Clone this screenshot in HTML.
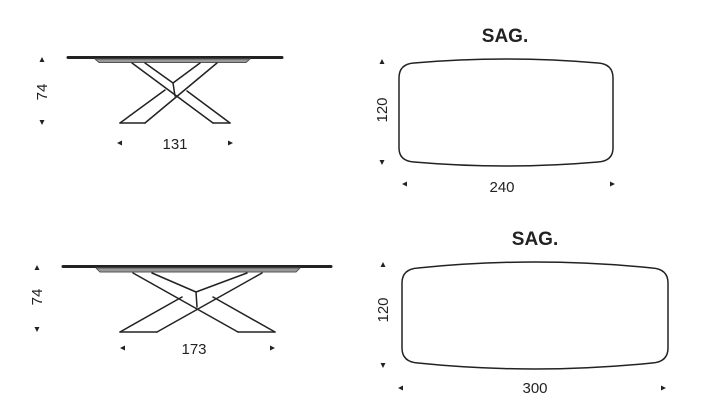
<!DOCTYPE html>
<html><head><style>
html,body{margin:0;padding:0;background:#fff;}
svg{display:block}
text{font-family:"Liberation Sans",sans-serif;fill:#222}
</style></head><body>
<svg width="702" height="416" viewBox="0 0 702 416" xmlns="http://www.w3.org/2000/svg">
<g stroke="#222" stroke-width="1.5" fill="none" stroke-linejoin="round" stroke-linecap="round">
 <!-- top side view -->
 <line x1="68" y1="57.5" x2="282" y2="57.5" stroke-width="3"/>
 <polygon points="95,59 250,59 246,62.5 99,62.5" fill="#999" stroke="#555" stroke-width="1"/>
 <line x1="132" y1="63" x2="213" y2="123"/>
 <line x1="217" y1="63" x2="145" y2="123"/>
 <polyline points="145,63 173,83 175,96"/>
 <line x1="200" y1="63" x2="173" y2="83"/>
 <line x1="120" y1="123" x2="165" y2="90"/>
 <line x1="230" y1="123" x2="187" y2="91"/>
 <line x1="120" y1="123" x2="145" y2="123"/>
 <line x1="213" y1="123" x2="230" y2="123"/>
 <!-- bottom side view -->
 <line x1="63" y1="266.5" x2="331" y2="266.5" stroke-width="3"/>
 <polygon points="96,268 300,268 296,272 100,272" fill="#999" stroke="#555" stroke-width="1"/>
 <line x1="133" y1="273" x2="238" y2="332"/>
 <line x1="262" y1="273" x2="157" y2="332"/>
 <polyline points="152,273 196,292 197,307"/>
 <line x1="247" y1="273" x2="196" y2="292"/>
 <line x1="120" y1="332" x2="182" y2="297"/>
 <line x1="275" y1="332" x2="213" y2="297"/>
 <line x1="120" y1="332" x2="157" y2="332"/>
 <line x1="238" y1="332" x2="275" y2="332"/>
 <!-- plan views -->
 <path d="M399,78 Q399,64 414,63 Q506,55 598,63 Q613,64 613,78 L613,148 Q613,161 598,162 Q506,170 414,162 Q399,161 399,148 Z"/>
 <path d="M402,283 Q402,269 418,268 Q535,256 652,268 Q668,269 668,283 L668,348 Q668,362 652,363 Q535,375 418,363 Q402,362 402,348 Z"/>
</g>
<g fill="#222">
 <!-- arrows -->
 <polygon points="42,57 39.5,62 44.5,62"/><polygon points="42,125 39.5,120 44.5,120"/>
 <polygon points="117,143 122,140.5 122,145.5"/><polygon points="233,143 228,140.5 228,145.5"/>
 <polygon points="37,265 34.5,270 39.5,270"/><polygon points="37,332 34.5,327 39.5,327"/>
 <polygon points="120,348 125,345.5 125,350.5"/><polygon points="275,348 270,345.5 270,350.5"/>
 <polygon points="382,59 379.5,64 384.5,64"/><polygon points="382,165 379.5,160 384.5,160"/>
 <polygon points="402,184 407,181.5 407,186.5"/><polygon points="615,184 610,181.5 610,186.5"/>
 <polygon points="383,262 380.5,267 385.5,267"/><polygon points="383,368 380.5,363 385.5,363"/>
 <polygon points="398,388 403,385.5 403,390.5"/><polygon points="666,388 661,385.5 661,390.5"/>
</g>
<g font-size="15">
 <text x="175" y="149" text-anchor="middle">131</text>
 <text x="194" y="354" text-anchor="middle">173</text>
 <text x="502" y="192" text-anchor="middle">240</text>
 <text x="535" y="393" text-anchor="middle">300</text>
 <text transform="translate(47,92) rotate(-90)" text-anchor="middle">74</text>
 <text transform="translate(42,297) rotate(-90)" text-anchor="middle">74</text>
 <text transform="translate(387,110) rotate(-90)" text-anchor="middle">120</text>
 <text transform="translate(388,310) rotate(-90)" text-anchor="middle">120</text>
</g>
<g font-size="19" font-weight="bold">
 <text x="505" y="42" text-anchor="middle">SAG.</text>
 <text x="535" y="245" text-anchor="middle">SAG.</text>
</g>
</svg>
</body></html>
